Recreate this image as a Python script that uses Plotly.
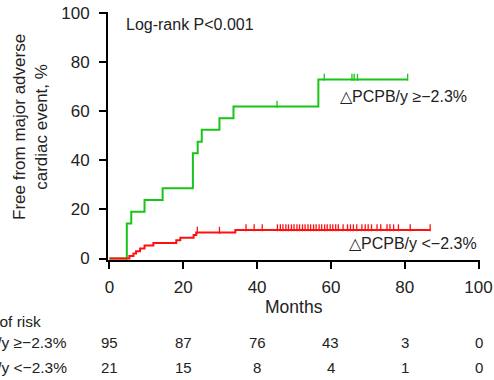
import plotly.graph_objects as go

# ---- data ----
green_t = [0, 4.7, 5.9, 9.5, 14.4, 22.6, 23.9, 25.0, 29.8, 33.6, 56.6, 80.8]
green_s = [0, 14.3, 19.0, 23.8, 28.6, 42.9, 47.6, 52.4, 57.1, 61.9, 72.9, 72.9]
green_cens = [45.4, 58.2, 65.7, 66.3, 67.2, 80.8]

red_t = [0, 5.4, 6.5, 7.2, 8.3, 9.5, 11.9, 18.1, 19.2, 22.8, 23.5, 34.1, 86.9]
red_s = [0, 1.0, 2.0, 3.0, 4.1, 5.3, 6.3, 7.4, 8.5, 9.6, 10.6, 11.6, 11.6]
red_cens = [23.8, 29.8, 37.0, 39.2, 41.4, 45.5, 46.3, 47.0, 47.8, 48.5, 49.3, 50.0,
            50.8, 51.5, 52.3, 53.0, 53.8, 54.5, 55.3, 56.0, 56.8, 57.5, 58.3, 59.0,
            59.8, 60.5, 61.3, 62.0, 63.3, 64.5, 65.3, 66.1, 67.0, 68.4, 69.3, 70.1,
            71.0, 72.5, 73.5, 75.2, 76.0, 77.0, 78.3, 81.5, 86.9]

risk_times = [0, 20, 40, 60, 80, 100]
risk_hi = [95, 87, 76, 43, 3, 0]
risk_lo = [21, 15, 8, 4, 1, 0]

label_hi = "△PCPB/y ≥−2.3%"
label_lo = "△PCPB/y <−2.3%"
x_ticks = [0, 20, 40, 60, 80, 100]
y_ticks = [0, 20, 40, 60, 80, 100]

GREEN = "#19c419"
RED = "#ff1010"
TXT = "#222222"
FONT = "Liberation Sans, Arial, sans-serif"


def level_at(ts, ss, t):
    v = ss[0]
    for ti, si in zip(ts, ss):
        if ti <= t:
            v = si
    return v


fig = go.Figure()
for ts, ss, cens, col in [(green_t, green_s, green_cens, GREEN), (red_t, red_s, red_cens, RED)]:
    fig.add_trace(go.Scatter(x=ts, y=ss, mode="lines", line=dict(color=col, width=2, shape="hv"),
                             showlegend=False, hoverinfo="skip"))
    fig.add_trace(go.Scatter(x=cens, y=[level_at(ts, ss, c) + 0.9 for c in cens], mode="markers",
                             marker=dict(symbol="line-ns", size=5, line=dict(color=col, width=1.3)),
                             showlegend=False, hoverinfo="skip", cliponaxis=False))

L, R, T, B = 108, 14, 12, 120
fig.update_layout(
    width=494, height=380, margin=dict(l=L, r=R, t=T, b=B, autoexpand=False),
    plot_bgcolor="white", paper_bgcolor="white",
    font=dict(family=FONT, size=17, color=TXT),
    xaxis=dict(range=[-0.4, 100.4], tickvals=x_ticks, showline=True, linecolor="black", linewidth=2,
               ticks="outside", ticklen=7, tickwidth=2, tickcolor="black", showgrid=False, zeroline=False,
               tickfont=dict(size=17, color=TXT), ticklabelstandoff=4, automargin=False),
    yaxis=dict(range=[-0.6, 100.4], tickvals=y_ticks, showline=True, linecolor="black", linewidth=2,
               ticks="outside", ticklen=7, tickwidth=2, tickcolor="black", showgrid=False, zeroline=False,
               tickfont=dict(size=17, color=TXT), ticklabelstandoff=6, automargin=False),
)

ann = []
ann.append(dict(text="Log-rank P<0.001", x=4.0, y=95.3, xref="x", yref="y", xanchor="left", yanchor="middle",
                showarrow=False, font=dict(size=16, color=TXT)))
ann.append(dict(text=label_hi, x=62.0, y=65.9, xref="x", yref="y", xanchor="left", yanchor="middle",
                showarrow=False, font=dict(size=16, color=TXT)))
ann.append(dict(text=label_lo, x=64.4, y=6.3, xref="x", yref="y", xanchor="left", yanchor="middle",
                showarrow=False, font=dict(size=16, color=TXT)))
ann.append(dict(text="Free from major adverse<br>cardiac event, %", x=0, y=0.5, xref="paper", yref="paper",
                xanchor="center", yanchor="middle", xshift=30 - L, yshift=(380 - B - T) / 2 + T - 127,
                textangle=-90, showarrow=False, font=dict(size=17, color=TXT)))
ann.append(dict(text="Months", x=50, y=0, xref="x", yref="paper", xanchor="center", yanchor="middle",
                yshift=-46.5, showarrow=False, font=dict(size=17.5, color=TXT)))
ann.append(dict(text="Number of risk", x=0, y=0, xref="paper", yref="paper", xanchor="right", yanchor="middle",
                xshift=43 - L, yshift=-61.2, showarrow=False, font=dict(size=15.5, color=TXT)))
for lab, vals, ys in [(label_hi, risk_hi, -82.8), (label_lo, risk_lo, -107.8)]:
    ann.append(dict(text=lab, x=0, y=0, xref="paper", yref="paper", xanchor="right", yanchor="middle",
                    xshift=69 - L, yshift=ys, showarrow=False, font=dict(size=15.5, color=TXT)))
    for t, v in zip(risk_times, vals):
        ann.append(dict(text=str(v), x=t, y=0, xref="x", yref="paper", xanchor="center", yanchor="middle",
                        yshift=ys, showarrow=False, font=dict(size=15, color=TXT)))
fig.update_layout(annotations=ann)

fig.write_html("out.html")
